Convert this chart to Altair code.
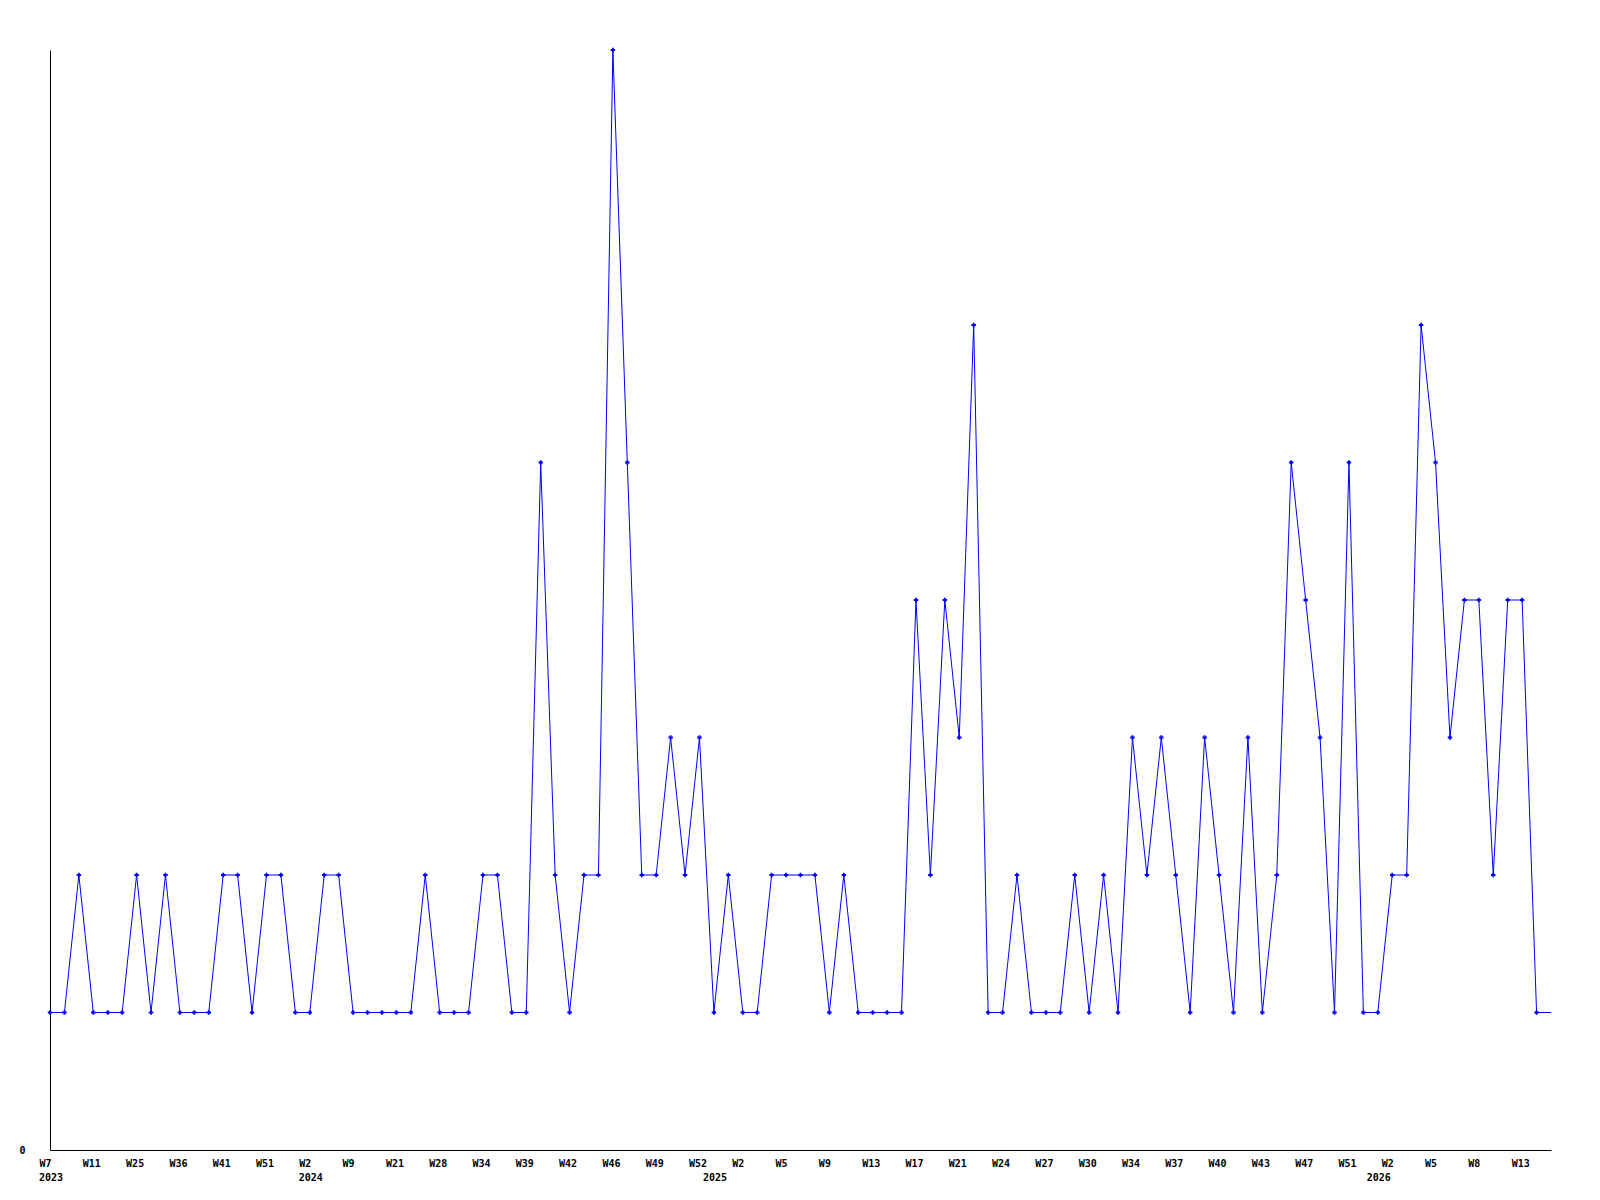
import json
import altair as alt
import pandas as pd

# weekly counts, one per data point (evenly spaced)
values = [
    1, 1, 2, 1, 1, 1, 2, 1, 2, 1,
    1, 1, 2, 2, 1, 2, 2, 1, 1, 2,
    2, 1, 1, 1, 1, 1, 2, 1, 1, 1,
    2, 2, 1, 1, 5, 2, 1, 2, 2, 8,
    5, 2, 2, 3, 2, 3, 1, 2, 1, 1,
    2, 2, 2, 2, 1, 2, 1, 1, 1, 1,
    4, 2, 4, 3, 6, 1, 1, 2, 1, 1,
    1, 2, 1, 2, 1, 3, 2, 3, 2, 1,
    3, 2, 1, 3, 1, 2, 5, 4, 3, 1,
    5, 1, 1, 2, 2, 6, 5, 3, 4, 4,
    2, 4, 4, 1,
]

# tick labels shown every 3rd point
week_labels = [
    "W7", "W11", "W25", "W36", "W41", "W51", "W2", "W9", "W21", "W28",
    "W34", "W39", "W42", "W46", "W49", "W52", "W2", "W5", "W9", "W13",
    "W17", "W21", "W24", "W27", "W30", "W34", "W37", "W40", "W43", "W47",
    "W51", "W2", "W5", "W8", "W13",
]
label_step = 3

# year labels and the point index where each year starts
years = ["2023", "2024", "2025", "2026"]
year_start_idx = [0, 18, 46, 92]

n = len(values)
df = pd.DataFrame({"idx": list(range(n)), "value": values})
tail = pd.DataFrame({"x1": [n - 1], "x2": [n], "value": [values[-1]]})
years_df = pd.DataFrame({"idx": year_start_idx, "year": years})

FONT = "DejaVu Sans Mono"
BLUE = "#0000FF"

x_scale = alt.Scale(domain=[0, n], nice=False, zero=False)
y_scale = alt.Scale(domain=[0, 8], nice=False)

label_expr = json.dumps(week_labels) + "[round(datum.value / %d)]" % label_step

x_axis = alt.Axis(
    values=list(range(0, label_step * len(week_labels), label_step)),
    labelExpr=label_expr,
    title=None, grid=False, ticks=False,
    domainColor="black", domainWidth=1,
    labelFont=FONT, labelFontWeight="bold", labelFontSize=10, labelColor="black",
    labelAlign="left", labelOffset=-11, labelPadding=8, labelFlush=False,
    labelOverlap=False,
)
y_axis = alt.Axis(
    values=[0], format="d", title=None, grid=False, ticks=False,
    domainColor="black", domainWidth=1,
    labelFont=FONT, labelFontWeight="bold", labelFontSize=10, labelColor="black",
    labelPadding=25,
)

base = alt.Chart(df)

line = base.mark_line(color=BLUE, strokeWidth=1).encode(
    x=alt.X("idx:Q", scale=x_scale, axis=x_axis),
    y=alt.Y("value:Q", scale=y_scale, axis=y_axis),
)

pts = base.mark_point(shape="cross", filled=True, size=20, color=BLUE, opacity=1).encode(
    x=alt.X("idx:Q", scale=x_scale),
    y=alt.Y("value:Q", scale=y_scale),
)

tail_rule = alt.Chart(tail).mark_rule(color=BLUE, strokeWidth=1).encode(
    x=alt.X("x1:Q", scale=x_scale),
    x2="x2:Q",
    y=alt.Y("value:Q", scale=y_scale),
)

year_text = alt.Chart(years_df).mark_text(
    font=FONT, fontWeight="bold", fontSize=10, color="black",
    align="left", baseline="alphabetic", dx=-11,
).encode(
    x=alt.X("idx:Q", scale=x_scale),
    y=alt.value(1131),
    text="year:N",
)

chart = (
    alt.layer(line, tail_rule, pts, year_text)
    .properties(
        width=1501, height=1100,
        autosize=alt.AutoSizeParams(type="none"),
        padding={"left": 42, "top": 42, "right": 40, "bottom": 40},
        background="white",
    )
    .configure_view(stroke=None)
)

chart.save("out.html", embed_options={"renderer": "svg", "actions": False})
